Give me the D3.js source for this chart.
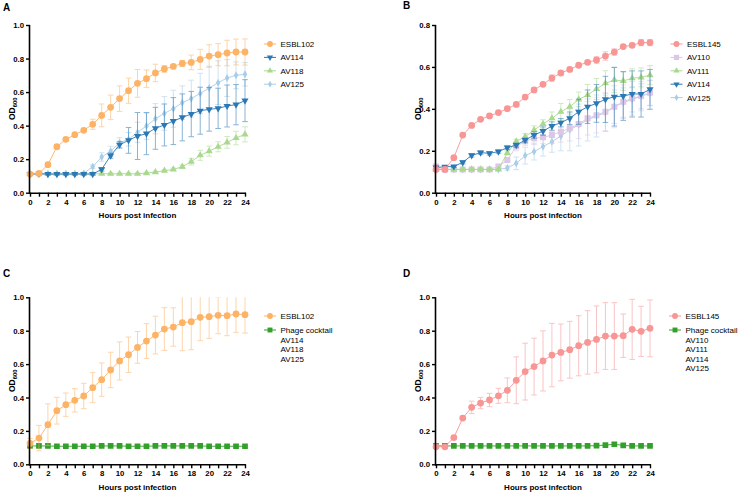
<!DOCTYPE html>
<html>
<head>
<meta charset="utf-8">
<script src="https://cdn.jsdelivr.net/npm/d3@7"></script>
<style>
  html, body { margin: 0; padding: 0; background: #fff; }
  svg { display: block; font-family: "Liberation Sans", Arial, Helvetica, sans-serif; }
</style>
</head>
<body>
<svg id="chart" width="738" height="492"></svg>
<script>
// ---------------- DATA ----------------
const hours = [0,1,2,3,4,5,6,7,8,9,10,11,12,13,14,15,16,17,18,19,20,21,22,23,24];
const hourTickLabels = ["0","2","4","6","8","10","12","14","16","18","20","22","24"];

// Panel A
const aESBL102    = [0.111,0.115,0.167,0.274,0.318,0.346,0.372,0.408,0.461,0.509,0.561,0.608,0.652,0.680,0.714,0.738,0.753,0.771,0.777,0.795,0.815,0.823,0.833,0.839,0.839];
const aESBL102Err = [0.005,0.005,0.010,0.010,0.008,0.008,0.010,0.030,0.068,0.073,0.076,0.075,0.083,0.052,0.052,0.020,0.010,0.018,0.044,0.060,0.067,0.066,0.076,0.077,0.078];
const aAV114      = [0.111,0.113,0.111,0.111,0.111,0.111,0.111,0.111,0.139,0.221,0.286,0.312,0.338,0.352,0.384,0.404,0.427,0.449,0.469,0.489,0.497,0.503,0.517,0.525,0.549];
const aAV114Err   = [0.005,0.005,0.005,0.005,0.005,0.005,0.005,0.005,0.010,0.015,0.020,0.077,0.140,0.125,0.125,0.125,0.140,0.140,0.135,0.140,0.130,0.120,0.125,0.120,0.125];
const aAV118      = [0.113,0.113,0.113,0.113,0.113,0.113,0.113,0.113,0.113,0.113,0.113,0.113,0.113,0.117,0.123,0.131,0.139,0.155,0.185,0.223,0.248,0.274,0.300,0.326,0.348];
const aAV118Err   = [0.005,0.005,0.005,0.005,0.005,0.005,0.005,0.005,0.005,0.005,0.005,0.005,0.005,0.005,0.005,0.005,0.008,0.010,0.020,0.030,0.030,0.030,0.035,0.040,0.045];
const aAV125      = [0.111,0.111,0.111,0.111,0.111,0.111,0.115,0.155,0.213,0.247,0.298,0.318,0.360,0.398,0.441,0.473,0.501,0.537,0.561,0.592,0.624,0.656,0.684,0.700,0.706];
const aAV125Err   = [0.005,0.005,0.005,0.005,0.005,0.005,0.005,0.010,0.025,0.030,0.030,0.040,0.060,0.080,0.090,0.100,0.110,0.100,0.110,0.120,0.130,0.130,0.110,0.080,0.070];

// Panel B
const bESBL145    = [0.111,0.111,0.167,0.275,0.321,0.350,0.366,0.382,0.401,0.421,0.456,0.490,0.517,0.547,0.571,0.588,0.608,0.622,0.633,0.652,0.671,0.697,0.703,0.716,0.716];
const bESBL145Err = [0.005,0.005,0.005,0.005,0.005,0.005,0.005,0.005,0.005,0.005,0.005,0.010,0.008,0.015,0.010,0.008,0.008,0.008,0.015,0.020,0.015,0.008,0.010,0.015,0.015];
const bAV110      = [0.125,0.111,0.111,0.111,0.111,0.111,0.111,0.125,0.156,0.220,0.246,0.260,0.264,0.275,0.291,0.307,0.328,0.355,0.370,0.386,0.410,0.434,0.450,0.461,0.477];
const bAV110Err   = [0.010,0.005,0.005,0.005,0.005,0.005,0.005,0.010,0.010,0.020,0.020,0.030,0.030,0.040,0.050,0.060,0.070,0.080,0.085,0.090,0.100,0.080,0.080,0.070,0.060];
const bAV111      = [0.111,0.111,0.111,0.111,0.111,0.111,0.111,0.111,0.190,0.245,0.267,0.299,0.328,0.355,0.386,0.410,0.445,0.466,0.495,0.522,0.538,0.533,0.546,0.550,0.561];
const bAV111Err   = [0.005,0.005,0.005,0.005,0.005,0.005,0.005,0.005,0.010,0.010,0.015,0.020,0.020,0.030,0.040,0.035,0.035,0.050,0.050,0.060,0.060,0.045,0.045,0.045,0.045];
const bAV114      = [0.120,0.124,0.125,0.145,0.178,0.191,0.188,0.196,0.215,0.227,0.251,0.275,0.294,0.318,0.334,0.355,0.386,0.410,0.426,0.445,0.458,0.461,0.471,0.471,0.493];
const bAV114Err   = [0.005,0.005,0.005,0.008,0.008,0.008,0.008,0.008,0.008,0.010,0.010,0.015,0.020,0.020,0.020,0.030,0.060,0.080,0.090,0.110,0.140,0.116,0.110,0.110,0.095];
const bAV125      = [0.111,0.111,0.111,0.111,0.111,0.111,0.111,0.111,0.118,0.140,0.177,0.196,0.220,0.243,0.270,0.300,0.323,0.347,0.366,0.382,0.410,0.430,0.445,0.460,0.475];
const bAV125Err   = [0.005,0.005,0.005,0.005,0.005,0.005,0.005,0.005,0.010,0.030,0.040,0.040,0.045,0.050,0.070,0.100,0.100,0.100,0.100,0.090,0.080,0.070,0.060,0.060,0.060];

// Panel C
const cESBL102    = [0.125,0.157,0.237,0.321,0.357,0.383,0.409,0.459,0.507,0.565,0.619,0.656,0.700,0.738,0.774,0.810,0.822,0.848,0.854,0.880,0.884,0.892,0.890,0.900,0.896];
const cESBL102Err = [0.030,0.076,0.125,0.080,0.070,0.070,0.076,0.090,0.100,0.106,0.114,0.106,0.095,0.104,0.113,0.128,0.115,0.168,0.168,0.140,0.130,0.110,0.120,0.110,0.110];
const cCocktail   = [0.110,0.110,0.110,0.108,0.108,0.108,0.108,0.108,0.110,0.110,0.110,0.108,0.108,0.108,0.110,0.110,0.110,0.110,0.110,0.110,0.108,0.108,0.108,0.108,0.108];
const cCocktailErr= [0.005,0.005,0.005,0.005,0.005,0.005,0.005,0.005,0.005,0.005,0.005,0.005,0.005,0.005,0.005,0.005,0.005,0.005,0.005,0.005,0.005,0.005,0.005,0.005,0.005];

// Panel D
const dESBL145    = [0.105,0.105,0.160,0.277,0.341,0.367,0.385,0.410,0.443,0.503,0.555,0.585,0.619,0.654,0.670,0.686,0.710,0.730,0.748,0.768,0.768,0.770,0.808,0.796,0.814];
const dESBL145Err = [0.005,0.005,0.010,0.010,0.037,0.034,0.040,0.045,0.074,0.140,0.170,0.170,0.180,0.190,0.170,0.170,0.180,0.190,0.200,0.200,0.200,0.130,0.180,0.150,0.170];
const dCocktail   = [0.110,0.110,0.110,0.110,0.110,0.110,0.110,0.110,0.110,0.110,0.110,0.110,0.110,0.110,0.110,0.110,0.110,0.110,0.112,0.115,0.120,0.113,0.110,0.110,0.110];
const dCocktailErr= [0.005,0.005,0.005,0.005,0.005,0.005,0.005,0.005,0.005,0.005,0.005,0.005,0.005,0.005,0.005,0.005,0.005,0.005,0.005,0.005,0.010,0.005,0.005,0.005,0.005];

const yTicksA = [0.0,0.2,0.4,0.6,0.8,1.0];
const yTicksB = [0.0,0.2,0.4,0.6,0.8];

const cocktailMembersC = ["AV114","AV118","AV125"];
const cocktailMembersD = ["AV110","AV111","AV114","AV125"];

// ---------------- STYLES ----------------
const COL = {
  orange: "#FDB366",
  pink: "#F89595",
  darkblue: "#2A78B6",
  lightblue: "#A8CDE8",
  lightgreen: "#A9D98E",
  lavender: "#DCC7E6",
  green: "#33A02C"
};

const svg = d3.select("#chart");

function markerPath(shape, size) {
  const map = {
    circle: d3.symbolCircle,
    square: d3.symbolSquare,
    up: d3.symbolTriangle,
    down: d3.symbolTriangle,
    diamond: d3.symbolDiamond
  };
  return d3.symbol().type(map[shape]).size(size)();
}

function drawPanel(p) {
  const g = svg.append("g");
  const x = d3.scaleLinear().domain([0, 24]).range([p.x0, p.x1]);
  const y = d3.scaleLinear().domain([0, p.yMax]).range([p.yb, p.yt]);

  const clipId = "clip" + p.label;
  svg.append("clipPath").attr("id", clipId)
    .append("rect").attr("x", p.x0 - 10).attr("y", p.yt).attr("width", p.x1 - p.x0 + 20).attr("height", p.yb - p.yt);

  // panel letter
  g.append("text").attr("x", p.lx).attr("y", p.ly)
    .attr("font-size", 10).attr("font-weight", "bold").text(p.label);

  // series
  const plot = g.append("g").attr("clip-path", `url(#${clipId})`);
  p.series.forEach(s => {
    const pts = hours.map((h, i) => ({ h, v: s.values[i], e: s.err[i] }));
    const eg = plot.append("g").attr("stroke", s.color).attr("stroke-width", 1).attr("opacity", 0.55);
    pts.forEach(d => {
      const top = y(d.v + d.e), bot = y(d.v - d.e), cx = x(d.h);
      eg.append("line").attr("x1", cx).attr("x2", cx).attr("y1", top).attr("y2", bot);
      eg.append("line").attr("x1", cx - 2.8).attr("x2", cx + 2.8).attr("y1", top).attr("y2", top);
      eg.append("line").attr("x1", cx - 2.8).attr("x2", cx + 2.8).attr("y1", bot).attr("y2", bot);
    });
    plot.append("path").datum(pts)
      .attr("fill", "none").attr("stroke", s.color).attr("stroke-width", 1).attr("opacity", 0.9)
      .attr("d", d3.line().x(d => x(d.h)).y(d => y(d.v)));
    plot.append("g").selectAll("path").data(pts).join("path")
      .attr("d", markerPath(s.shape, s.msize))
      .attr("transform", d => `translate(${x(d.h)},${y(d.v)})` + (s.shape === "down" ? " rotate(180)" : ""))
      .attr("fill", s.color);
  });

  // axes
  const xAxis = d3.axisBottom(x).tickValues(hours).tickSize(4).tickPadding(2.5)
    .tickFormat((d) => hourTickLabels.includes(String(d)) ? String(d) : "");
  const gx = g.append("g").attr("transform", `translate(0,${p.yb})`).call(xAxis);
  gx.select(".domain").attr("stroke", "#000").attr("stroke-width", 1.6)
    .attr("d", `M${p.x0 - 1},0.5H${p.x1 + 0.8}`);
  gx.selectAll(".tick line").attr("stroke", "#000").attr("stroke-width", 1.4);
  gx.selectAll(".tick text").attr("font-size", 7.8).attr("font-weight", "bold").attr("fill", "#000")
    .attr("font-family", "Liberation Sans, Arial, sans-serif");

  const yAxis = d3.axisLeft(y).tickValues(p.yTicks).tickSize(4).tickPadding(2).tickFormat(d3.format(".1f"));
  const gy = g.append("g").attr("transform", `translate(${p.x0},0)`).call(yAxis);
  gy.select(".domain").attr("stroke", "#000").attr("stroke-width", 1.6)
    .attr("d", `M-0.5,${p.yt}V${p.yb + 1}`);
  gy.selectAll(".tick line").attr("stroke", "#000").attr("stroke-width", 1.4);
  gy.selectAll(".tick text").attr("font-size", 7.8).attr("font-weight", "bold").attr("fill", "#000")
    .attr("font-family", "Liberation Sans, Arial, sans-serif");

  // axis titles
  g.append("text").attr("x", (p.x0 + p.x1) / 2).attr("y", p.yb + 25.3)
    .attr("text-anchor", "middle").attr("font-size", 8).attr("font-weight", "bold")
    .text("Hours post infection");
  const yt = g.append("text")
    .attr("transform", `translate(${p.x0 - 15},${(p.yt + p.yb) / 2}) rotate(-90)`)
    .attr("text-anchor", "middle").attr("font-size", 8.5).attr("font-weight", "bold");
  yt.append("tspan").text("OD");
  yt.append("tspan").attr("font-size", 5.8).attr("dy", 2.2).text("600");

  // legend
  const lg = g.append("g");
  p.legend.forEach(item => {
    if (item.series) {
      const s = item.series;
      lg.append("line").attr("x1", p.legX - 6).attr("x2", p.legX + 6)
        .attr("y1", item.y).attr("y2", item.y).attr("stroke", s.color).attr("stroke-width", 1);
      lg.append("path").attr("d", markerPath(s.shape, s.msize * 0.75))
        .attr("transform", `translate(${p.legX},${item.y})` + (s.shape === "down" ? " rotate(180)" : ""))
        .attr("fill", s.color);
    }
    lg.append("text").attr("x", p.legX + 10.5).attr("y", item.y + 3)
      .attr("font-size", 8).attr("fill", "#000").text(item.text);
  });
}

const sA = [
  { name: "ESBL102", values: aESBL102, err: aESBL102Err, color: COL.orange, shape: "circle", msize: 36 },
  { name: "AV114", values: aAV114, err: aAV114Err, color: COL.darkblue, shape: "down", msize: 22 },
  { name: "AV118", values: aAV118, err: aAV118Err, color: COL.lightgreen, shape: "up", msize: 22 },
  { name: "AV125", values: aAV125, err: aAV125Err, color: COL.lightblue, shape: "diamond", msize: 18 }
];
// draw order: back to front
drawPanel({
  label: "A", lx: 3, ly: 11,
  x0: 30, x1: 245, yt: 25, yb: 192.7, yMax: 1.0, yTicks: yTicksA,
  series: [sA[3], sA[2], sA[1], sA[0]],
  legX: 270,
  legend: [
    { series: sA[0], text: "ESBL102", y: 44 },
    { series: sA[1], text: "AV114", y: 57.4 },
    { series: sA[2], text: "AV118", y: 70.8 },
    { series: sA[3], text: "AV125", y: 84.2 }
  ]
});

const sB = [
  { name: "ESBL145", values: bESBL145, err: bESBL145Err, color: COL.pink, shape: "circle", msize: 36 },
  { name: "AV110", values: bAV110, err: bAV110Err, color: COL.lavender, shape: "square", msize: 36 },
  { name: "AV111", values: bAV111, err: bAV111Err, color: COL.lightgreen, shape: "up", msize: 22 },
  { name: "AV114", values: bAV114, err: bAV114Err, color: COL.darkblue, shape: "down", msize: 22 },
  { name: "AV125", values: bAV125, err: bAV125Err, color: COL.lightblue, shape: "diamond", msize: 18 }
];
drawPanel({
  label: "B", lx: 403, ly: 9,
  x0: 436, x1: 650, yt: 25, yb: 192.7, yMax: 0.8, yTicks: yTicksB,
  series: [sB[4], sB[1], sB[2], sB[3], sB[0]],
  legX: 676.5,
  legend: [
    { series: sB[0], text: "ESBL145", y: 44 },
    { series: sB[1], text: "AV110", y: 57.4 },
    { series: sB[2], text: "AV111", y: 70.8 },
    { series: sB[3], text: "AV114", y: 84.2 },
    { series: sB[4], text: "AV125", y: 97.6 }
  ]
});

const sC = [
  { name: "ESBL102", values: cESBL102, err: cESBL102Err, color: COL.orange, shape: "circle", msize: 36 },
  { name: "Phage cocktail", values: cCocktail, err: cCocktailErr, color: COL.green, shape: "square", msize: 32 }
];
drawPanel({
  label: "C", lx: 3, ly: 277,
  x0: 30, x1: 245, yt: 297.3, yb: 464.3, yMax: 1.0, yTicks: yTicksA,
  series: [sC[1], sC[0]],
  legX: 270,
  legend: [
    { series: sC[0], text: "ESBL102", y: 316 },
    { series: sC[1], text: "Phage cocktail", y: 330 }
  ].concat(cocktailMembersC.map((t, i) => ({ text: t, y: 339.5 + i * 9.5 })))
});

const sD = [
  { name: "ESBL145", values: dESBL145, err: dESBL145Err, color: COL.pink, shape: "circle", msize: 36 },
  { name: "Phage cocktail", values: dCocktail, err: dCocktailErr, color: COL.green, shape: "square", msize: 32 }
];
drawPanel({
  label: "D", lx: 403, ly: 277,
  x0: 436, x1: 650, yt: 297.3, yb: 464.3, yMax: 1.0, yTicks: yTicksA,
  series: [sD[1], sD[0]],
  legX: 675,
  legend: [
    { series: sD[0], text: "ESBL145", y: 316 },
    { series: sD[1], text: "Phage cocktail", y: 330 }
  ].concat(cocktailMembersD.map((t, i) => ({ text: t, y: 339.5 + i * 9.5 })))
});
</script>
</body>
</html>
